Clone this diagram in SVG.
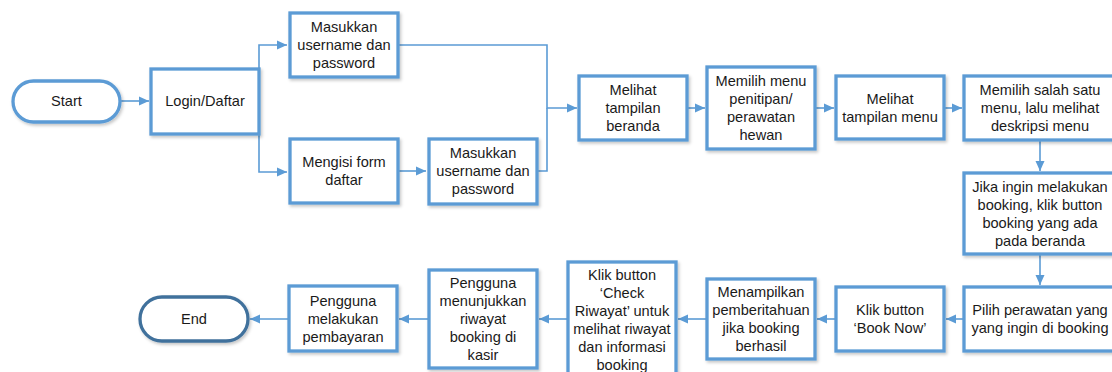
<svg xmlns="http://www.w3.org/2000/svg" width="1112" height="372" viewBox="0 0 1112 372">
<style>
.box{fill:#fff;stroke:#5B9BD5;stroke-width:3.3;filter:url(#sh)}
.term{fill:#fff;stroke:#5B9BD5;stroke-width:3.3;filter:url(#sh)}
.term2{fill:#fff;stroke:#41719C;stroke-width:3.3;filter:url(#sh)}
text{font-family:"Liberation Sans",Arial,sans-serif;font-size:14.6px;fill:#1a1a1a;text-anchor:middle}
.con path{fill:none;stroke:#5B9BD5;stroke-width:1.6}
</style>
<defs>
<filter id="sh" x="-10%" y="-10%" width="125%" height="130%">
<feDropShadow dx="1.5" dy="2" stdDeviation="1.5" flood-color="#000" flood-opacity="0.22"/>
</filter>
<marker id="ar" markerUnits="userSpaceOnUse" markerWidth="12" markerHeight="12" viewBox="0 0 12 12" refX="11" refY="6" orient="auto">
<path d="M1,1.5 L11,6 L1,10.5 Z" fill="#5B9BD5"/>
</marker>
</defs>
<rect width="1112" height="372" fill="#fff"/>

<g class="con">
<path d="M120,101 H149" marker-end="url(#ar)"/>
<path d="M259,101 V45 H287" marker-end="url(#ar)"/>
<path d="M259,101 V172 H287" marker-end="url(#ar)"/>
<path d="M398,171 H426" marker-end="url(#ar)"/>
<path d="M398,45 H547 V108 H577" marker-end="url(#ar)"/>
<path d="M537,171 H547 V108"/>
<path d="M687,108 H705" marker-end="url(#ar)"/>
<path d="M815,108 H834" marker-end="url(#ar)"/>
<path d="M944,108 H962" marker-end="url(#ar)"/>
<path d="M1040,140 V171" marker-end="url(#ar)"/>
<path d="M1040,254 V285" marker-end="url(#ar)"/>
<path d="M964,319 H946" marker-end="url(#ar)"/>
<path d="M836,319 H817" marker-end="url(#ar)"/>
<path d="M707,319 H678" marker-end="url(#ar)"/>
<path d="M568,319 H539" marker-end="url(#ar)"/>
<path d="M428,319 H399" marker-end="url(#ar)"/>
<path d="M289,319 H250" marker-end="url(#ar)"/>
</g>

<g id="start">
<rect class="term" x="13" y="81" width="107" height="41" rx="20.5"/>
<text x="66.5" y="106">Start</text>
</g>
<g id="login">
<rect class="box" x="151" y="69" width="108" height="65"/>
<text x="205" y="106">Login/Daftar</text>
</g>
<g id="masukkan1">
<rect class="box" x="290" y="13" width="108" height="64"/>
<text x="344" y="32">Masukkan</text>
<text x="344" y="50">username dan</text>
<text x="344" y="68">password</text>
</g>
<g id="mengisi">
<rect class="box" x="290" y="139" width="108" height="64"/>
<text x="344" y="167">Mengisi form</text>
<text x="344" y="185">daftar</text>
</g>
<g id="masukkan2">
<rect class="box" x="429" y="139" width="108" height="65"/>
<text x="483" y="158">Masukkan</text>
<text x="483" y="176">username dan</text>
<text x="483" y="194">password</text>
</g>
<g id="beranda">
<rect class="box" x="579" y="76" width="108" height="64"/>
<text x="633" y="95">Melihat</text>
<text x="633" y="113">tampilan</text>
<text x="633" y="131">beranda</text>
</g>
<g id="memilihmenu">
<rect class="box" x="707" y="67" width="108" height="82"/>
<text x="761" y="86">Memilih menu</text>
<text x="761" y="104">penitipan/</text>
<text x="761" y="122">perawatan</text>
<text x="761" y="140">hewan</text>
</g>
<g id="tampilanmenu">
<rect class="box" x="836" y="76" width="108" height="63"/>
<text x="890" y="104">Melihat</text>
<text x="890" y="122">tampilan menu</text>
</g>
<g id="salahsatu">
<rect class="box" x="964" y="76" width="152" height="64"/>
<text x="1040" y="95">Memilih salah satu</text>
<text x="1040" y="113">menu, lalu melihat</text>
<text x="1040" y="131">deskripsi menu</text>
</g>
<g id="jika">
<rect class="box" x="964" y="173" width="152" height="81"/>
<text x="1040" y="191.5">Jika ingin melakukan</text>
<text x="1040" y="209.5">booking, klik button</text>
<text x="1040" y="227.5">booking yang ada</text>
<text x="1040" y="245.5">pada beranda</text>
</g>
<g id="pilih">
<rect class="box" x="964" y="287" width="152" height="64"/>
<text x="1040" y="315">Pilih perawatan yang</text>
<text x="1040" y="333">yang ingin di booking</text>
</g>
<g id="booknow">
<rect class="box" x="836" y="287" width="108" height="64"/>
<text x="890" y="315">Klik button</text>
<text x="890" y="333">‘Book Now’</text>
</g>
<g id="menampilkan">
<rect class="box" x="707" y="279" width="108" height="80"/>
<text x="761" y="297">Menampilkan</text>
<text x="761" y="315">pemberitahuan</text>
<text x="761" y="333">jika booking</text>
<text x="761" y="351">berhasil</text>
</g>
<g id="checkriwayat">
<rect class="box" x="568" y="262" width="108" height="116"/>
<text x="622" y="280">Klik button</text>
<text x="622" y="298">‘Check</text>
<text x="622" y="316">Riwayat’ untuk</text>
<text x="622" y="334">melihat riwayat</text>
<text x="622" y="352">dan informasi</text>
<text x="622" y="370">booking</text>
</g>
<g id="menunjukkan">
<rect class="box" x="429" y="270" width="108" height="98"/>
<text x="483" y="288">Pengguna</text>
<text x="483" y="306">menunjukkan</text>
<text x="483" y="324">riwayat</text>
<text x="483" y="342">booking di</text>
<text x="483" y="360">kasir</text>
</g>
<g id="pembayaran">
<rect class="box" x="289" y="286" width="108" height="65"/>
<text x="343" y="306">Pengguna</text>
<text x="343" y="324">melakukan</text>
<text x="343" y="342">pembayaran</text>
</g>
<g id="end">
<rect class="term2" x="140" y="297" width="108" height="44" rx="22"/>
<text x="194" y="324">End</text>
</g>
</svg>
